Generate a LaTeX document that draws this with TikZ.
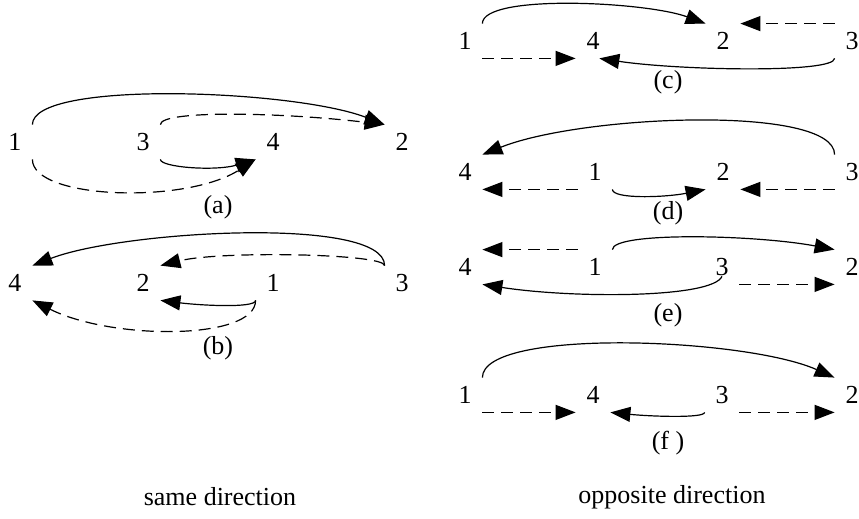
\documentclass[tikz,border=0pt]{standalone}
\usepackage{fontspec}
\setmainfont{Liberation Serif}
\usetikzlibrary{arrows.meta}

\begin{document}
\begin{tikzpicture}[x=0.5pt, y=-0.5pt,
                font=\fontsize{13}{15}\selectfont,
                num/.style={minimum size=17pt, inner sep=0pt},
                link/.style={line width=0.6pt, -{Triangle[length=10pt, width=7.5pt]}},
                dlink/.style={link, dash pattern=on 6pt off 3.5pt}]
                \useasboundingbox (0,0) rectangle (859,519);

                % same direction
                \node[num] (a1) at (15,142)  {1};
                \node[num] (a3) at (143,142) {3};
                \node[num] (a4) at (273,142) {4};
                \node[num] (a2) at (402,142) {2};
                \node (capa) at (218,207) {(a)};

                \draw[link]  (a1.north east) .. controls +(0,-45) and +(-90,-35) .. (a2.north west);
                \draw[dlink] (a3.north east) .. controls +(0,-15) and +(-100,-12) .. (a2.north west);
                \draw[link]  (a3.south east) .. controls +(0,8) and +(-40,12) .. (a4.south west);
                \draw[dlink] (a1.south east) .. controls +(0,40) and +(-70,45) .. (a4.south west);

                \node[num] (b4) at (15,283)  {4};
                \node[num] (b2) at (143,283) {2};
                \node[num] (b1) at (273,283) {1};
                \node[num] (b3) at (402,283) {3};
                \node (capb) at (218,348) {(b)};

                \draw[link]  (b3.north west) .. controls +(0,-50) and +(90,-35) .. (b4.north east);
                \draw[dlink] (b3.north west) .. controls +(0,-12) and +(60,-15) .. (b2.north east);
                \draw[link]  (b1.south west) .. controls +(0,8) and +(40,5) .. (b2.south east);
                \draw[dlink] (b1.south west) .. controls +(0,40) and +(80,40) .. (b4.south east);

                \node (same) at (220,497) {same direction};

                % opposite direction
                \node[num] (c1) at (465,41) {1};
                \node[num] (c4) at (593,41) {4};
                \node[num] (c2) at (723,41) {2};
                \node[num] (c3) at (852,41) {3};
                \node (capc) at (668,82) {(c)};

                \draw[link]  (c1.north east) .. controls +(0,-30) and +(-60,-22) .. (c2.north west);
                \draw[dlink] (c1.south east) -- (c4.south west);
                \draw[dlink] (c3.north west) -- (c2.north east);
                \draw[link]  (c3.south west) .. controls +(0,15) and +(80,12) .. (c4.-70);

                \node[num] (d4) at (465,172) {4};
                \node[num] (d1) at (595,172) {1};
                \node[num] (d2) at (723,172) {2};
                \node[num] (d3) at (852,172) {3};
                \node (capd) at (668,213) {(d)};

                \draw[link]  (d3.north west) .. controls +(0,-50) and +(100,-40) .. (d4.north east);
                \draw[dlink] (d1.south west) -- (d4.south east);
                \draw[link]  (d1.south east) .. controls +(0,10) and +(-40,8) .. (d2.south west);
                \draw[dlink] (d3.south west) -- (d2.south east);

                \node[num] (e4) at (465,267) {4};
                \node[num] (e1) at (595,267) {1};
                \node[num] (e3) at (722,267) {3};
                \node[num] (e2) at (852,267) {2};
                \node (cape) at (668,315) {(e)};

                \draw[dlink] (e1.north west) -- (e4.north east);
                \draw[link]  (e1.north east) .. controls +(0,-18) and +(-80,-15) .. (e2.north west);
                \draw[link]  ([yshift=4pt]e3.south) .. controls +(-10,22) and +(90,14) .. (e4.south east);
                \draw[dlink] (e3.south east) -- (e2.south west);

                \node[num] (f1) at (465,395) {1};
                \node[num] (f4) at (593,395) {4};
                \node[num] (f3) at (722,395) {3};
                \node[num] (f2) at (852,395) {2};
                \node (capf) at (668,443) {(f )};

                \draw[link]  (f1.north east) .. controls +(0,-50) and +(-90,-40) .. (f2.north west);
                \draw[dlink] (f1.south east) -- (f4.south west);
                \draw[link]  (f3.south west) .. controls +(0,6) and +(40,4) .. (f4.south east);
                \draw[dlink] (f3.south east) -- (f2.south west);

                \node (opp) at (672,497) {opposite direction};
            \end{tikzpicture}
\end{document}
